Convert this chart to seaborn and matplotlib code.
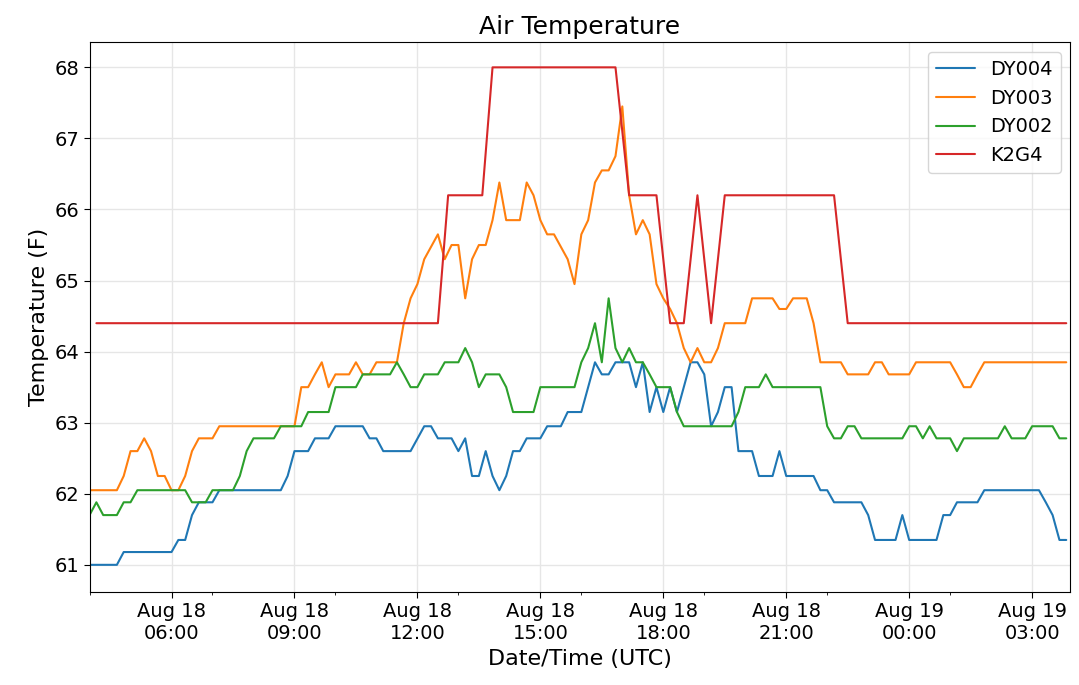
import numpy as np
import pandas as pd
import matplotlib
matplotlib.use("Agg")
import matplotlib.pyplot as plt
import matplotlib.dates as mdates
import seaborn as sns

start = pd.Timestamp("2019-08-18 04:00")

# minutes since 04:00 UTC, values in F
dy004_t = [0,40,50,120,130,140,150,160,180,190,280,290,300,320,330,350,360,400,410,420,430,470,490,500,510,530,540,550,560,570,580,590,600,610,620,630,640,660,670,690,700,720,730,740,750,760,770,790,800,810,820,830,840,850,860,870,880,890,900,910,920,930,940,950,970,980,1000,1010,1020,1060,1070,1080,1090,1130,1140,1150,1180,1190,1200,1240,1250,1260,1270,1300,1310,1390,1400,1410,1420,1430]
dy004_v = [61.0,61.0,61.18,61.18,61.35,61.35,61.7,61.88,61.88,62.05,62.05,62.25,62.6,62.6,62.78,62.78,62.95,62.95,62.78,62.78,62.6,62.6,62.95,62.95,62.78,62.78,62.6,62.78,62.25,62.25,62.6,62.25,62.05,62.25,62.6,62.6,62.78,62.78,62.95,62.95,63.15,63.15,63.5,63.85,63.68,63.68,63.85,63.85,63.5,63.85,63.15,63.5,63.15,63.5,63.15,63.5,63.85,63.85,63.68,62.95,63.15,63.5,63.5,62.6,62.6,62.25,62.25,62.6,62.25,62.25,62.05,62.05,61.88,61.88,61.7,61.35,61.35,61.7,61.35,61.35,61.7,61.7,61.88,61.88,62.05,62.05,61.88,61.7,61.35,61.35]

dy003_t = [0,40,50,60,70,80,90,100,110,120,130,140,150,160,180,190,300,310,320,330,340,350,360,380,390,400,410,420,450,460,470,480,490,510,520,530,540,550,560,570,580,590,600,610,630,640,650,660,670,680,700,710,720,730,740,750,760,770,780,790,800,810,820,830,840,850,860,870,880,890,900,910,920,930,960,970,1000,1010,1020,1030,1050,1060,1070,1100,1110,1140,1150,1160,1170,1200,1210,1260,1270,1280,1290,1300,1310,1430]
dy003_v = [62.05,62.05,62.25,62.6,62.6,62.78,62.6,62.25,62.25,62.05,62.05,62.25,62.6,62.78,62.78,62.95,62.95,63.5,63.5,63.68,63.85,63.5,63.68,63.68,63.85,63.68,63.68,63.85,63.85,64.4,64.75,64.95,65.3,65.65,65.3,65.5,65.5,64.75,65.3,65.5,65.5,65.85,66.38,65.85,65.85,66.38,66.2,65.85,65.65,65.65,65.3,64.95,65.65,65.85,66.38,66.55,66.55,66.75,67.45,66.2,65.65,65.85,65.65,64.95,64.75,64.6,64.4,64.05,63.85,64.05,63.85,63.85,64.05,64.4,64.4,64.75,64.75,64.6,64.6,64.75,64.75,64.4,63.85,63.85,63.68,63.68,63.85,63.85,63.68,63.68,63.85,63.85,63.68,63.5,63.5,63.68,63.85,63.85]

dy002_t = [0,10,20,40,50,60,70,140,150,170,180,210,220,230,240,270,280,310,320,350,360,390,400,440,450,460,470,480,490,510,520,540,550,560,570,580,600,610,620,650,660,710,720,730,740,750,760,770,780,790,800,810,820,830,850,860,870,940,950,960,980,990,1000,1070,1080,1090,1100,1110,1120,1130,1190,1200,1210,1220,1230,1240,1260,1270,1280,1330,1340,1350,1370,1380,1410,1420,1430]
dy002_v = [61.7,61.88,61.7,61.7,61.88,61.88,62.05,62.05,61.88,61.88,62.05,62.05,62.25,62.6,62.78,62.78,62.95,62.95,63.15,63.15,63.5,63.5,63.68,63.68,63.85,63.68,63.5,63.5,63.68,63.68,63.85,63.85,64.05,63.85,63.5,63.68,63.68,63.5,63.15,63.15,63.5,63.5,63.85,64.05,64.4,63.85,64.75,64.05,63.85,64.05,63.85,63.85,63.68,63.5,63.5,63.15,62.95,62.95,63.15,63.5,63.5,63.68,63.5,63.5,62.95,62.78,62.78,62.95,62.95,62.78,62.78,62.95,62.95,62.78,62.95,62.78,62.78,62.6,62.78,62.78,62.95,62.78,62.78,62.95,62.95,62.78,62.78]

k2g4_t = [10,510,525,575,590,770,790,830,850,870,890,910,930,1090,1110,1430]
k2g4_v = [64.4,64.4,66.2,66.2,68.0,68.0,66.2,66.2,64.4,64.4,66.2,64.4,66.2,66.2,64.4,64.4]

series = [("DY004", dy004_t, dy004_v), ("DY003", dy003_t, dy003_v),
          ("DY002", dy002_t, dy002_v), ("K2G4", k2g4_t, k2g4_v)]
frames = []
for name, t, v in series:
    frames.append(pd.DataFrame({"time": start + pd.to_timedelta(t, unit="min"),
                                "temp": v, "station": name}))
df = pd.concat(frames, ignore_index=True)

sns.set_style("white")
plt.rcParams["text.color"] = "black"
plt.rcParams["axes.labelcolor"] = "black"
plt.rcParams["xtick.color"] = "black"
plt.rcParams["ytick.color"] = "black"
fig, ax = plt.subplots(figsize=(10.79, 6.85), dpi=100)
sns.lineplot(data=df, x="time", y="temp", hue="station", palette="tab10",
             ax=ax, linewidth=1.5, estimator=None, sort=False)
ax.set_xlim(start, start + pd.Timedelta(minutes=1436))
ax.set_ylim(60.62, 68.35)
ax.xaxis.set_major_locator(mdates.HourLocator(byhour=[0, 3, 6, 9, 12, 15, 18, 21]))
ax.xaxis.set_major_formatter(mdates.DateFormatter("%b %d\n%H:%M"))
ax.xaxis.set_minor_locator(mdates.HourLocator(byhour=[1, 4, 7, 10, 13, 16, 19, 22]))
ax.tick_params(axis="both", which="major", labelsize=14, length=4, direction="out", bottom=True, left=True)
ax.tick_params(axis="x", which="minor", length=2, bottom=True)
for lbl in ax.get_xticklabels():
    lbl.set_horizontalalignment("center")
ax.grid(True, which="major", color="#e6e6e6", linewidth=1)
for s in ax.spines.values():
    s.set_color("black")
ax.set_title("Air Temperature", fontsize=18)
ax.set_xlabel("Date/Time (UTC)", fontsize=16)
ax.set_ylabel("Temperature (F)", fontsize=16)
ax.legend(title=None, fontsize=14, loc="upper right")
plt.subplots_adjust(left=0.083, right=0.992, top=0.938, bottom=0.136)
fig.savefig("out.png", dpi=100)
